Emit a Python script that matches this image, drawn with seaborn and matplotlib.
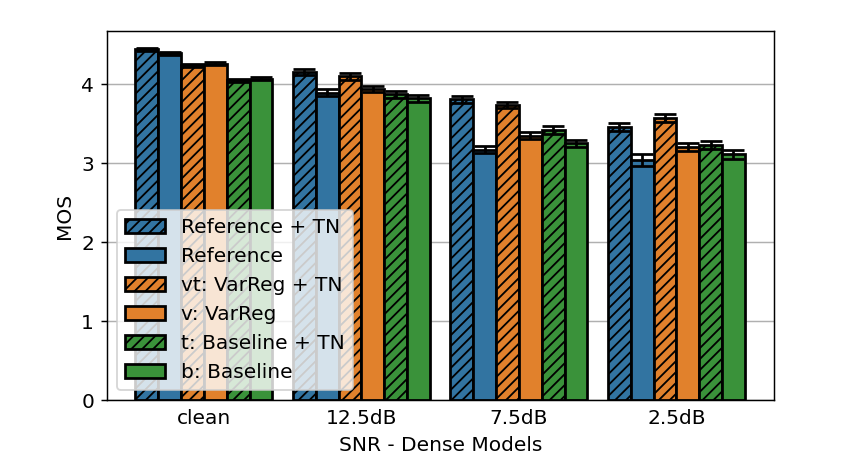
import matplotlib
matplotlib.use("Agg")
import matplotlib.pyplot as plt
import pandas as pd
import seaborn as sns

# MOS per SNR condition
snr_levels = ["clean", "12.5dB", "7.5dB", "2.5dB"]
models = [
    "Reference + TN",
    "Reference",
    "vt: VarReg + TN",
    "v: VarReg",
    "t: Baseline + TN",
    "b: Baseline",
]

ref_tn = [4.44, 4.15, 3.81, 3.46]
ref = [4.39, 3.89, 3.17, 3.04]
varreg_tn = [4.24, 4.10, 3.74, 3.57]
varreg = [4.26, 3.94, 3.35, 3.21]
base_tn = [4.05, 3.87, 3.42, 3.23]
base = [4.07, 3.82, 3.25, 3.11]

ref_tn_err = [0.02, 0.04, 0.045, 0.05]
ref_err = [0.02, 0.045, 0.045, 0.07]
varreg_tn_err = [0.02, 0.045, 0.04, 0.05]
varreg_err = [0.02, 0.04, 0.04, 0.05]
base_tn_err = [0.02, 0.04, 0.045, 0.055]
base_err = [0.02, 0.045, 0.04, 0.055]

means = [ref_tn, ref, varreg_tn, varreg, base_tn, base]
errs = [ref_tn_err, ref_err, varreg_tn_err, varreg_err, base_tn_err, base_err]
hatches = ["////", "", "////", "", "////", ""]
palette = sns.color_palette("tab10")
colors = [palette[0], palette[0], palette[1], palette[1], palette[2], palette[2]]

rows = []
for model, vals in zip(models, means):
    for snr, v in zip(snr_levels, vals):
        rows.append({"snr": snr, "model": model, "mos": v})
df = pd.DataFrame(rows)

plt.rcParams["hatch.linewidth"] = 1.0
plt.rcParams["font.size"] = 11

fig = plt.figure(figsize=(6.4, 3.565), dpi=131.6)
ax = fig.add_axes([0.127, 0.147, 0.792, 0.786])

sns.barplot(
    data=df, x="snr", y="mos", hue="model",
    order=snr_levels, hue_order=models, palette=colors,
    width=0.87, errorbar=None, legend=False,
    edgecolor="black", linewidth=1.5, ax=ax,
)

bar_groups = list(ax.containers)
for cont, hatch, err in zip(bar_groups, hatches, errs):
    xs, ys = [], []
    for bar in cont.patches:
        bar.set_hatch(hatch)
        xs.append(bar.get_x() + bar.get_width() / 2)
        ys.append(bar.get_height())
    ax.errorbar(xs, ys, yerr=err, fmt="none", ecolor="black",
                elinewidth=1.5, capsize=6, capthick=1.5, zorder=5)

ax.legend(bar_groups, models, loc="lower left", framealpha=0.8)

ax.set_xlim(-0.615, 3.62)
ax.set_ylim(0, 4.67)
ax.set_axisbelow(True)
ax.yaxis.grid(True, color="#b0b0b0", linewidth=0.8)
ax.xaxis.grid(False)
ax.tick_params(axis="x", length=0, pad=5)
ax.set_xlabel("SNR - Dense Models")
ax.set_ylabel("MOS")

fig.savefig("out.png", dpi=131.6)
